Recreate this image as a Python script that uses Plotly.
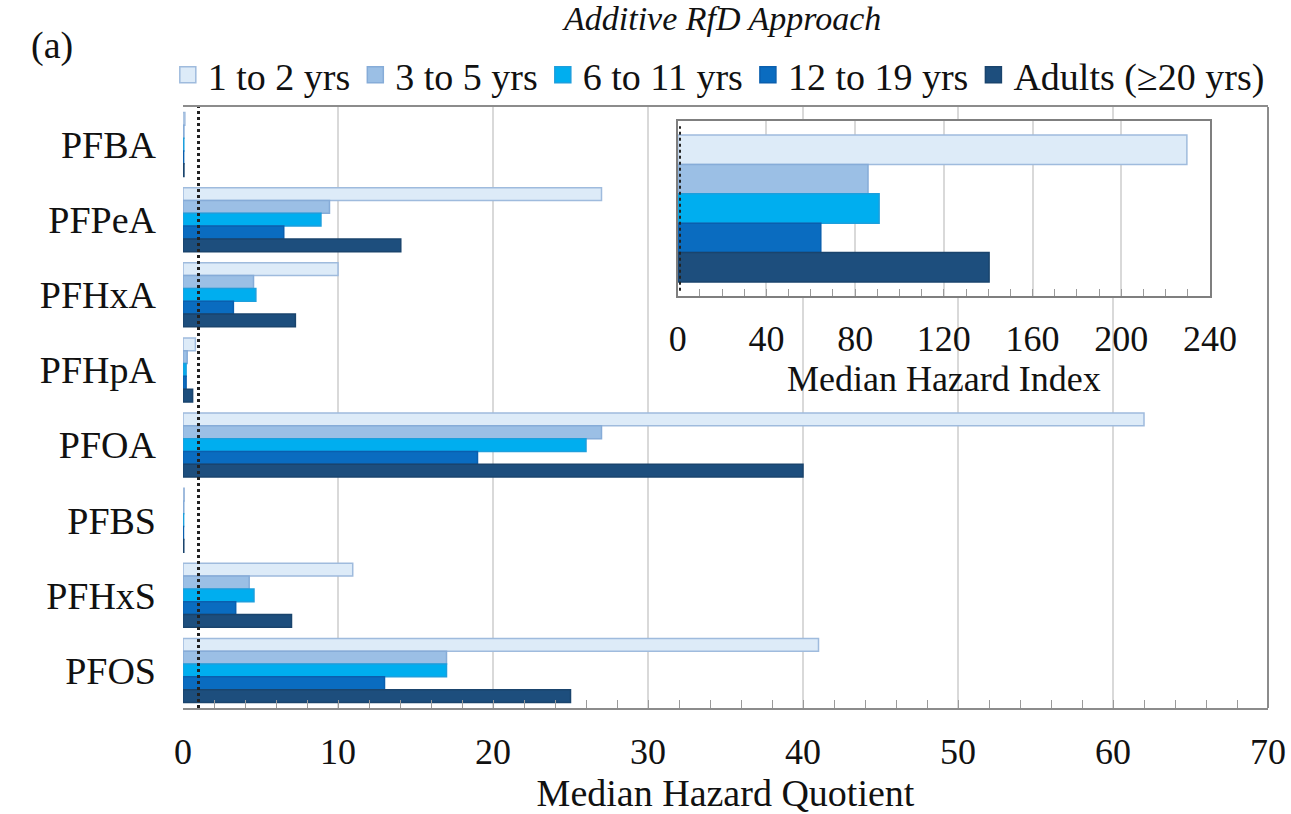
import plotly.graph_objects as go

# ---------------- data ----------------
compounds = ["PFBA", "PFPeA", "PFHxA", "PFHpA", "PFOA", "PFBS", "PFHxS", "PFOS"]
age_groups = ["1 to 2 yrs", "3 to 5 yrs", "6 to 11 yrs", "12 to 19 yrs", "Adults (≥20 yrs)"]

hq_1_2 = [0.12, 27.0, 10.0, 0.80, 62.0, 0.08, 10.95, 41.0]
hq_3_5 = [0.06, 9.45, 4.55, 0.27, 27.0, 0.05, 4.27, 17.0]
hq_6_11 = [0.05, 8.9, 4.7, 0.20, 26.0, 0.04, 4.58, 17.0]
hq_12_19 = [0.04, 6.5, 3.25, 0.20, 19.0, 0.03, 3.4, 13.0]
hq_adult = [0.06, 14.05, 7.25, 0.62, 40.0, 0.05, 7.0, 25.0]

hazard_index = [229.6, 85.8, 90.8, 64.5, 140.4]

threshold = 1

main_ticks = [0, 10, 20, 30, 40, 50, 60, 70]
inset_ticks = [0, 40, 80, 120, 160, 200, 240]

# ---------------- styles ----------------
fills = ["#DDEBF8", "#9BBFE5", "#00AEEF", "#0A6CC0", "#1D4E7D"]
edges = ["#9FBBDD", "#86ACD8", "#1C9FDD", "#0A5FAE", "#1A446D"]
FONT = "Liberation Serif, Times New Roman, serif"

series = [hq_1_2, hq_3_5, hq_6_11, hq_12_19, hq_adult]

fig = go.Figure()

for name, vals, fc, ec in zip(age_groups, series, fills, edges):
    fig.add_trace(go.Bar(
        x=vals, y=compounds, orientation="h", name=name,
        marker=dict(color=fc, line=dict(color=ec, width=1.5)),
        showlegend=False, xaxis="x", yaxis="y",
    ))

# legend proxies (square symbols)
for name, fc, ec in zip(age_groups, fills, edges):
    fig.add_trace(go.Scatter(
        x=[None], y=[None], mode="markers", name=name,
        marker=dict(symbol="square", size=21, color=fc, line=dict(color=ec, width=1.5)),
        xaxis="x", yaxis="y",
    ))

# inset
fig.add_trace(go.Bar(
    x=hazard_index, y=age_groups, orientation="h", width=[1] * len(age_groups),
    marker=dict(color=fills, line=dict(color=edges, width=1.5)),
    showlegend=False, xaxis="x2", yaxis="y2",
))

fig.update_layout(
    width=1291, height=814,
    margin=dict(l=183, r=23, t=107, b=106, autoexpand=False),
    paper_bgcolor="white", plot_bgcolor="white",
    barmode="group", bargap=0.147, bargroupgap=0,
    font=dict(family=FONT, size=36, color="#111111"),
    showlegend=True,
    legend=dict(
        orientation="h", x=-0.014, xanchor="left", y=1.053, yanchor="middle",
        font=dict(family=FONT, size=38, color="#111111"),
        itemwidth=30, tracegroupgap=0, bgcolor="rgba(0,0,0,0)",
    ),
    xaxis=dict(
        domain=[0, 1], range=[0, 70], tickvals=main_ticks, automargin=False,
        showgrid=True, gridcolor="#D9D9D9", gridwidth=1.5,
        ticks="inside", ticklen=8, tickcolor="#9A9A9A", tickwidth=1,
        minor=dict(dtick=2, ticks="inside", ticklen=8, tickcolor="#9A9A9A", showgrid=False),
        showline=True, linecolor="#8C8C8C", linewidth=2, mirror=True,
        zeroline=False, ticklabelstandoff=11,
        tickfont=dict(family=FONT, size=36),
        title=dict(text="Median Hazard Quotient", font=dict(family=FONT, size=38), standoff=5),
        anchor="y",
    ),
    yaxis=dict(
        domain=[0, 1], categoryorder="array", categoryarray=compounds, automargin=False,
        autorange="reversed", showgrid=False, zeroline=False, showline=False,
        ticks="", ticklabelstandoff=26, tickfont=dict(family=FONT, size=38),
        anchor="x",
    ),
    xaxis2=dict(
        domain=[0.456, 0.9465], range=[0, 240], tickvals=inset_ticks, automargin=False,
        showgrid=True, gridcolor="#D9D9D9", gridwidth=1.5,
        ticks="inside", ticklen=7, tickcolor="#9A9A9A",
        minor=dict(dtick=10, ticks="inside", ticklen=7, tickcolor="#9A9A9A", showgrid=False),
        showline=True, linecolor="#7F7F7F", linewidth=2, mirror=True,
        zeroline=False, ticklabelstandoff=10,
        tickfont=dict(family=FONT, size=36),
        title=dict(text="Median Hazard Index", font=dict(family=FONT, size=36), standoff=1),
        anchor="y2",
    ),
    yaxis2=dict(
        domain=[0.6855, 0.9767], categoryorder="array", categoryarray=age_groups,
        range=[4.98, -0.98], showticklabels=False, ticks="", showgrid=False, automargin=False,
        zeroline=False, showline=True, linecolor="#7F7F7F", linewidth=2, mirror=True,
        anchor="x2",
    ),
)

# right border of the main plot
fig.add_shape(type="line", xref="x domain", yref="y domain", x0=1, x1=1, y0=0, y1=1,
              line=dict(color="#8C8C8C", width=2))
# threshold lines
fig.add_shape(type="line", xref="x", yref="y domain", x0=threshold, x1=threshold, y0=0, y1=1,
              line=dict(color="#222222", width=3, dash="dot"))
fig.add_shape(type="line", xref="x2", yref="y2 domain", x0=threshold, x1=threshold, y0=0.03, y1=0.97,
              line=dict(color="#222222", width=2, dash="dot"))

fig.add_annotation(text="<i>Additive RfD Approach</i>", xref="paper", yref="paper",
                   x=0.496, y=1.148, xanchor="center", yanchor="middle", showarrow=False,
                   font=dict(family=FONT, size=34, color="#111111"))
fig.add_annotation(text="(a)", xref="paper", yref="paper",
                   x=-0.121, y=1.103, xanchor="center", yanchor="middle", showarrow=False,
                   font=dict(family=FONT, size=38, color="#111111"))

fig.write_html("out.html", config={"displayModeBar": False},
               post_script="document.body.style.margin='0px';document.body.style.padding='0px';")
